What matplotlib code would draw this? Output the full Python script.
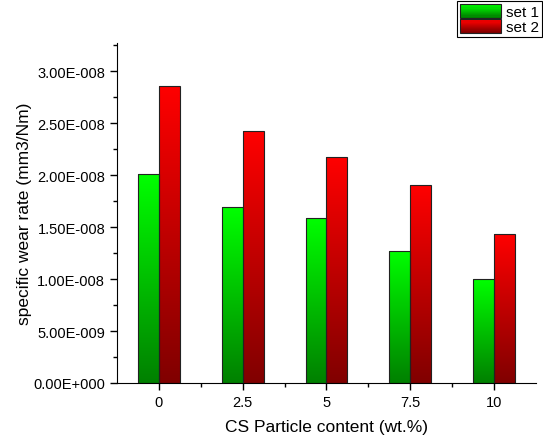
import numpy as np
import matplotlib
matplotlib.use('Agg')
import matplotlib.pyplot as plt
from matplotlib.colors import LinearSegmentedColormap
from matplotlib.patches import Rectangle
from matplotlib.legend_handler import HandlerBase
from matplotlib.ticker import MultipleLocator, FuncFormatter

plt.rcParams['font.family'] = ['Liberation Sans', 'DejaVu Sans']

categories = ['0', '2.5', '5', '7.5', '10']
set1 = [2.01e-8, 1.69e-8, 1.59e-8, 1.27e-8, 1.00e-8]
set2 = [2.86e-8, 2.42e-8, 2.17e-8, 1.90e-8, 1.43e-8]
series = [('set 1', set1, '#008000', '#00ff00'),
          ('set 2', set2, '#800000', '#ff0000')]

fig = plt.figure(figsize=(5.43, 4.39), dpi=100)
ax = fig.add_axes([0.2155, 0.1253, 0.7715, 0.7745])

x = np.arange(len(categories))
w = 0.25
grad = np.linspace(0, 1, 256).reshape(-1, 1)

for i, (name, vals, dark, light) in enumerate(series):
    cmap = LinearSegmentedColormap.from_list(name, [dark, light])
    off = (i - 0.5) * w
    bars = ax.bar(x + off, vals, w, color='none', edgecolor='#222222', lw=0.8, zorder=3)
    for b in bars:
        x0, y0 = b.get_x(), b.get_y()
        im = ax.imshow(grad, cmap=cmap, origin='lower', aspect='auto',
                       extent=[x0, x0 + b.get_width(), y0, y0 + b.get_height()], zorder=2)
        im.set_clip_path(b)

ax.set_xlim(-0.5, 4.5)
ax.set_ylim(0, 3.27e-8)
ax.set_xticks(x)
ax.set_xticklabels(categories)
ax.set_xticks(x[:-1] + 0.5, minor=True)
ax.yaxis.set_major_locator(MultipleLocator(0.5e-8))
ax.yaxis.set_minor_locator(MultipleLocator(0.25e-8))


def sci(v, pos):
    if v == 0:
        return '0.00E+000'
    e = int(np.floor(np.log10(abs(v)) + 1e-9))
    m = v / 10 ** e
    return f'{m:.2f}E{"+" if e >= 0 else "-"}{abs(e):03d}'


ax.yaxis.set_major_formatter(FuncFormatter(sci))
ax.spines['top'].set_visible(False)
ax.spines['right'].set_visible(False)
ax.tick_params(axis='both', which='major', length=5, width=1, labelsize=10.5, direction='out')
ax.tick_params(axis='both', which='minor', length=3, width=1, direction='out')
ax.set_xlabel('CS Particle content (wt.%)', fontsize=12.5, labelpad=7)
ax.set_ylabel('specific wear rate (mm3/Nm)', fontsize=12.5, labelpad=1)


class GradHandler(HandlerBase):
    def __init__(self, dark, light):
        super().__init__()
        self.dark, self.light = dark, light

    def create_artists(self, legend, orig_handle, xdescent, ydescent, width, height, fontsize, trans):
        cmap = LinearSegmentedColormap.from_list('g', [self.dark, self.light])
        n = 12
        arts = []
        for k in range(n):
            r = Rectangle((-xdescent, -ydescent + height * k / n), width, height / n + 0.1,
                          facecolor=cmap(k / (n - 1)), edgecolor='none', transform=trans)
            arts.append(r)
        arts.append(Rectangle((-xdescent, -ydescent), width, height, facecolor='none',
                              edgecolor='#222222', lw=0.8, transform=trans))
        return arts


handles = [Rectangle((0, 0), 1, 1) for _ in series]
hmap = {h: GradHandler(s[2], s[3]) for h, s in zip(handles, series)}
leg = fig.legend(handles, [s[0] for s in series], handler_map=hmap,
                 loc='upper left', bbox_to_anchor=(457 / 543, 1 - 2 / 439), fontsize=11,
                 fancybox=False, edgecolor='black', framealpha=1,
                 handlelength=2.7, handleheight=1.0, handletextpad=0.3,
                 labelspacing=0.0, borderpad=0.2, borderaxespad=0)
leg.get_frame().set_linewidth(0.8)

fig.savefig('out.png', dpi=100)
